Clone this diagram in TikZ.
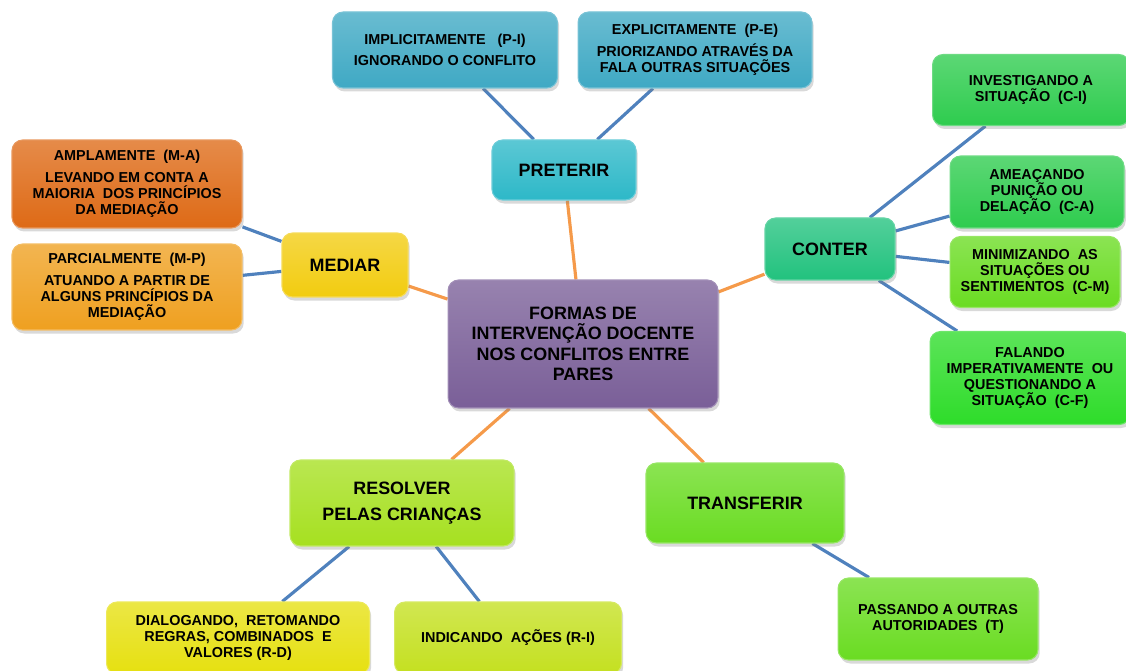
\documentclass[tikz,border=0pt]{standalone}
\usepackage{fontspec}
\setmainfont{Liberation Sans}
\usetikzlibrary{shadows,backgrounds}
\definecolor{linkblue}{HTML}{4F81BD}
\definecolor{linkorange}{HTML}{F59A4A}
\definecolor{cyanbox}{HTML}{3FA9C4}
\definecolor{tealbox}{HTML}{2DB8C8}
\definecolor{orangebox}{HTML}{DE6A16}
\definecolor{amberbox}{HTML}{EFA020}
\definecolor{yellowbox}{HTML}{F2CC10}
\definecolor{purplebox}{HTML}{7A5F98}
\definecolor{jadebox}{HTML}{22C27E}
\definecolor{greenbox}{HTML}{2ECC4E}
\definecolor{limebox}{HTML}{6ADC22}
\definecolor{brightbox}{HTML}{2EDC2A}
\definecolor{chartbox}{HTML}{A6E020}
\definecolor{lemonbox}{HTML}{E6E010}
\definecolor{olivebox}{HTML}{C4E020}
\tikzset{
  box/.style={rounded corners=6pt, align=center, inner sep=2pt,
    top color=#1!78!white, bottom color=#1, draw=#1!70!white, line width=0.6pt,
    drop shadow={opacity=0.3, shadow xshift=1pt, shadow yshift=-2pt},
    font=\bfseries\fontsize{8.2}{9.2}\selectfont},
  bigbox/.style={box=#1, font=\bfseries\fontsize{10.2}{11.6}\selectfont},
  link/.style={line width=1.8pt, linkblue},
  hub/.style={line width=1.8pt, linkorange},
}
\begin{document}
\begin{tikzpicture}[x=0.02cm, y=-0.02cm]
    \useasboundingbox (0,0) rectangle (1126,671);
    % centre
    \node[bigbox=purplebox, minimum width=5.4cm, minimum height=2.56cm] (forms) at (583,344)
        {FORMAS DE\\INTERVENÇÃO DOCENTE\\NOS CONFLITOS ENTRE\\PARES};
    % preterir
    \node[bigbox=tealbox, minimum width=2.88cm, minimum height=1.2cm] (pret) at (564,170) {PRETERIR};
    \node[box=cyanbox, minimum width=4.5cm, minimum height=1.52cm] (impl) at (445,50)
        {IMPLICITAMENTE \ \ (P-I)\\[3pt]IGNORANDO O CONFLITO};
    \node[box=cyanbox, minimum width=4.68cm, minimum height=1.52cm] (expl) at (695,50)
        {EXPLICITAMENTE \ (P-E)\\[3pt]PRIORIZANDO ATRAVÉS DA\\FALA OUTRAS SITUAÇÕES};
    % mediar
    \node[bigbox=yellowbox, minimum width=2.52cm, minimum height=1.28cm] (med) at (345,265) {MEDIAR};
    \node[box=orangebox, minimum width=4.6cm, minimum height=1.76cm] (ampl) at (127,184)
        {AMPLAMENTE \ (M-A)\\[3pt]LEVANDO EM CONTA A\\MAIORIA \ DOS PRINCÍPIOS\\DA MEDIAÇÃO};
    \node[box=amberbox, minimum width=4.6cm, minimum height=1.72cm] (parc) at (127,287)
        {PARCIALMENTE \ (M-P)\\[3pt]ATUANDO A PARTIR DE\\ALGUNS PRINCÍPIOS DA\\MEDIAÇÃO};
    % conter
    \node[bigbox=jadebox, minimum width=2.6cm, minimum height=1.24cm] (cont) at (830,249) {CONTER};
    \node[box=greenbox, minimum width=3.94cm, minimum height=1.42cm] (ci) at (1031,90)
        {INVESTIGANDO A\\SITUAÇÃO \ (C-I)};
    \node[box=greenbox, minimum width=3.48cm, minimum height=1.44cm] (ca) at (1037,192)
        {AMEAÇANDO\\PUNIÇÃO OU\\DELAÇÃO \ (C-A)};
    \node[box=limebox, minimum width=3.4cm, minimum height=1.42cm] (cm) at (1035,272)
        {MINIMIZANDO \ AS\\SITUAÇÕES OU\\SENTIMENTOS \ (C-M)};
    \node[box=brightbox, minimum width=4.0cm, minimum height=1.86cm] (cf) at (1030,378)
        {FALANDO\\IMPERATIVAMENTE \ OU\\QUESTIONANDO A\\SITUAÇÃO \ (C-F)};
    % resolver
    \node[bigbox=chartbox, minimum width=4.48cm, minimum height=1.72cm] (res) at (402,503)
        {RESOLVER\\[3pt]PELAS CRIANÇAS};
    \node[box=lemonbox, minimum width=5.26cm, minimum height=1.44cm] (rd) at (238,638)
        {DIALOGANDO, \ RETOMANDO\\REGRAS, COMBINADOS \ E\\VALORES (R-D)};
    \node[box=olivebox, minimum width=4.54cm, minimum height=1.44cm] (ri) at (508,638)
        {INDICANDO \ AÇÕES (R-I)};
    % transferir
    \node[bigbox=limebox, minimum width=3.96cm, minimum height=1.6cm] (trans) at (745,503) {TRANSFERIR};
    \node[box=limebox, minimum width=4.0cm, minimum height=1.64cm] (tout) at (938,619)
        {PASSANDO A OUTRAS\\AUTORIDADES \ (T)};
    \begin{pgfonlayer}{background}
        \draw[hub] (forms) -- (pret);
        \draw[hub] (forms) -- (med);
        \draw[hub] (forms) -- (cont);
        \draw[hub] (forms) -- (res);
        \draw[hub] (forms) -- (trans);
        \draw[link] (pret) -- (impl);
        \draw[link] (pret) -- (expl);
        \draw[link] (med) -- (ampl);
        \draw[link] (med) -- (parc);
        \draw[link] (cont) -- (ci);
        \draw[link] (cont) -- (ca);
        \draw[link] (cont) -- (cm);
        \draw[link] (cont) -- (cf);
        \draw[link] (res) -- (rd);
        \draw[link] (res) -- (ri);
        \draw[link] (trans) -- (tout);
    \end{pgfonlayer}
\end{tikzpicture}
\end{document}
